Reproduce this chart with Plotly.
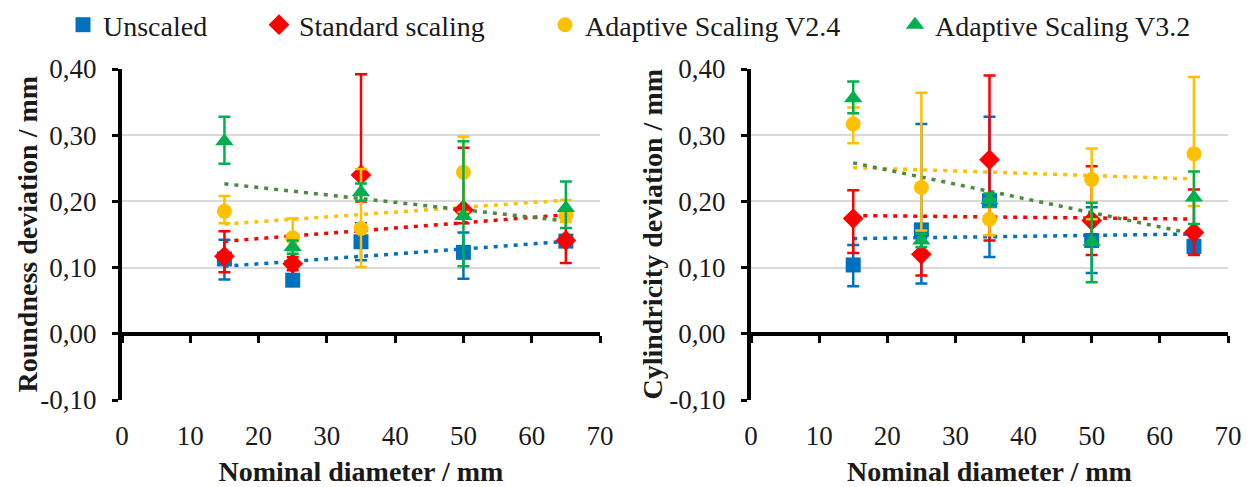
import numpy as np
import plotly.graph_objects as go

# ---------------- data ----------------
x_diam = [15, 25, 35, 50, 65]
series_names = ["Unscaled", "Standard scaling", "Adaptive Scaling V2.4", "Adaptive Scaling V3.2"]
y_tickvals = [-0.10, 0.00, 0.10, 0.20, 0.30, 0.40]
y_ticktext = ["-0,10", "0,00", "0,10", "0,20", "0,30", "0,40"]
x_tickvals = [0, 10, 20, 30, 40, 50, 60, 70]
y_titles = ["Roundness deviation / mm", "Cylindricity deviation / mm"]
x_title = "Nominal diameter / mm"

# Roundness deviation (left)
round_unscaled = [0.113, 0.081, 0.139, 0.123, 0.140]
round_unscaled_plus = [0.029, 0.008, 0.028, 0.030, 0.008]
round_unscaled_minus = [0.031, 0.008, 0.028, 0.040, 0.008]
round_standard = [0.117, 0.106, 0.240, 0.187, 0.141]
round_standard_plus = [0.038, 0.010, 0.152, 0.094, 0.034]
round_standard_minus = [0.024, 0.010, 0.040, 0.020, 0.034]
round_v24 = [0.185, 0.145, 0.159, 0.244, 0.179]
round_v24_plus = [0.023, 0.029, 0.090, 0.054, 0.023]
round_v24_minus = [0.018, 0.020, 0.058, 0.060, 0.010]
round_v32 = [0.291, 0.131, 0.214, 0.178, 0.190]
round_v32_plus = [0.037, 0.010, 0.013, 0.113, 0.040]
round_v32_minus = [0.034, 0.010, 0.013, 0.076, 0.030]

# Cylindricity deviation (right)
cyl_unscaled = [0.104, 0.157, 0.201, 0.141, 0.132]
cyl_unscaled_plus = [0.030, 0.160, 0.127, 0.050, 0.010]
cyl_unscaled_minus = [0.032, 0.081, 0.085, 0.049, 0.010]
cyl_standard = [0.174, 0.120, 0.263, 0.171, 0.153]
cyl_standard_plus = [0.043, 0.030, 0.127, 0.082, 0.065]
cyl_standard_minus = [0.052, 0.032, 0.122, 0.052, 0.034]
cyl_v24 = [0.317, 0.221, 0.173, 0.233, 0.272]
cyl_v24_plus = [0.025, 0.143, 0.030, 0.047, 0.116]
cyl_v24_minus = [0.029, 0.065, 0.024, 0.060, 0.079]
cyl_v32 = [0.356, 0.141, 0.202, 0.139, 0.206]
cyl_v32_plus = [0.025, 0.010, 0.010, 0.059, 0.039]
cyl_v32_minus = [0.023, 0.010, 0.010, 0.061, 0.040]

# ---------------- styles ----------------
colors = ["#0070C0", "#FF0000", "#FFC000", "#00B050"]
trend_colors = ["#0070C0", "#FF0000", "#FFC000", "#4C8A42"]
symbols = ["square", "diamond", "circle", "triangle-up"]
msizes = [15, 16, 15, 16]
FONT = "Liberation Serif, Times New Roman, serif"
TXT = "#1a1a1a"
legend_x_px = [55, 251, 537, 887]

left_sets = [
    (round_unscaled, round_unscaled_plus, round_unscaled_minus),
    (round_standard, round_standard_plus, round_standard_minus),
    (round_v24, round_v24_plus, round_v24_minus),
    (round_v32, round_v32_plus, round_v32_minus),
]
right_sets = [
    (cyl_unscaled, cyl_unscaled_plus, cyl_unscaled_minus),
    (cyl_standard, cyl_standard_plus, cyl_standard_minus),
    (cyl_v24, cyl_v24_plus, cyl_v24_minus),
    (cyl_v32, cyl_v32_plus, cyl_v32_minus),
]

fig = go.Figure()
xs = np.array(x_diam, dtype=float)
x_line = [min(x_diam), max(x_diam)]

for panel, (sets, xa, ya) in enumerate([(left_sets, "x", "y"), (right_sets, "x2", "y2")]):
    # trendlines first
    for i, (vals, _, _) in enumerate(sets):
        k, b = np.polyfit(xs, np.array(vals), 1)
        fig.add_trace(go.Scatter(
            x=x_line, y=[k * v + b for v in x_line], mode="lines",
            line=dict(color=trend_colors[i], width=3.5, dash="4px,6px"),
            xaxis=xa, yaxis=ya, showlegend=False, hoverinfo="skip"))
    for i, (vals, plus, minus) in enumerate(sets):
        fig.add_trace(go.Scatter(
            x=x_diam, y=vals, mode="markers", name=series_names[i],
            marker=dict(symbol=symbols[i], size=msizes[i], color=colors[i]),
            error_y=dict(type="data", symmetric=False, array=plus, arrayminus=minus,
                         color=colors[i], thickness=2.5, width=6),
            xaxis=xa, yaxis=ya,
            showlegend=(panel == 0),
            legend=("legend" if i == 0 else f"legend{i+1}")))

# page is offset by the 8px body margin -> figure is 8px smaller
W, H = 1242, 479
ml, mr, mt, mb = 114, 22, 61, 87
pw = W - ml - mr
dom_left = [0, (592 - ml) / pw]
dom_right = [(743 - ml) / pw, 1]
zero_pos = 0.1 / 0.5

common_x = dict(range=[0, 70], tickvals=x_tickvals, showgrid=False, zeroline=False,
                showline=True, linecolor="black", linewidth=4, ticks="outside",
                ticklen=7, tickwidth=3, tickcolor="black", anchor="free", position=zero_pos,
                ticklabelstandoff=70,
                tickfont=dict(family=FONT, size=27, color=TXT),
                title=dict(text=f"<b>{x_title}</b>", standoff=20,
                           font=dict(family=FONT, size=28, color=TXT)))
common_y = dict(range=[-0.1, 0.4], tickvals=y_tickvals, ticktext=y_ticktext,
                showgrid=True, gridcolor="#D9D9D9", gridwidth=1.5, zeroline=False,
                showline=True, linecolor="black", linewidth=4, ticks="outside",
                ticklen=6, tickwidth=3, tickcolor="black", ticklabelstandoff=10,
                tickfont=dict(family=FONT, size=27, color=TXT), domain=[0, 1])

legends = {}
for i in range(4):
    key = "legend" if i == 0 else f"legend{i+1}"
    legends[key] = dict(x=legend_x_px[i] / W, y=1 - 17 / H, xref="container", yref="container",
                        xanchor="left", yanchor="middle", orientation="h",
                        font=dict(family=FONT, size=28, color=TXT),
                        bgcolor="rgba(0,0,0,0)", borderwidth=0)

# y-axis titles as rotated annotations (centres at page x 27 and 652)
ytitle_x_fig = [19, 644]
annotations = [
    dict(text=f"<b>{y_titles[j]}</b>", x=(ytitle_x_fig[j] - ml) / pw, y=0.5,
         xref="paper", yref="paper", xanchor="center", yanchor="middle",
         textangle=-90, showarrow=False, font=dict(family=FONT, size=28, color=TXT))
    for j in range(2)
]

fig.update_layout(
    width=W, height=H, margin=dict(l=ml, r=mr, t=mt, b=mb, autoexpand=False),
    paper_bgcolor="white", plot_bgcolor="white",
    font=dict(family=FONT),
    xaxis=dict(domain=dom_left, **common_x),
    xaxis2=dict(domain=dom_right, **common_x),
    yaxis=dict(anchor="x", **common_y),
    yaxis2=dict(anchor="x2", **common_y),
    annotations=annotations,
    **legends,
)

fig.write_html("out.html")
